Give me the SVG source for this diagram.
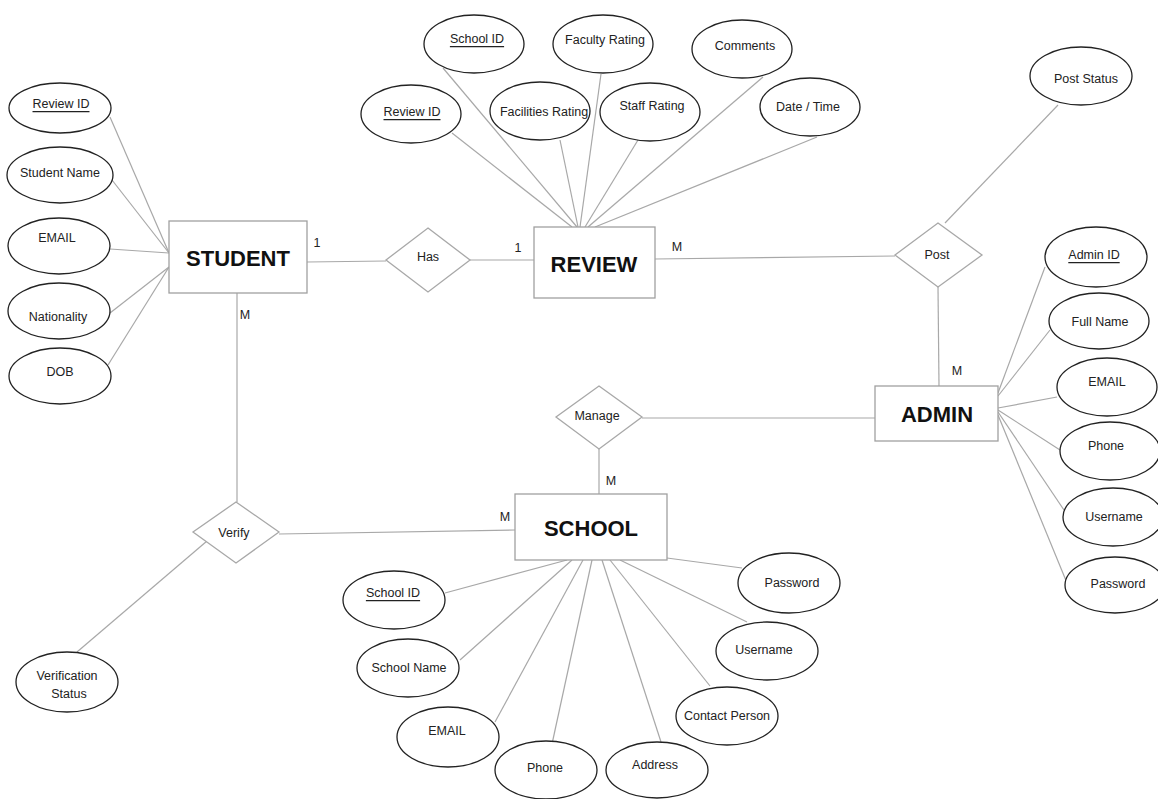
<svg xmlns="http://www.w3.org/2000/svg" width="1158" height="799" viewBox="0 0 1158 799">
<style>
.attr ellipse{fill:#fff;stroke:#222;stroke-width:1.3}
.ent rect{fill:#fff;stroke:#a0a0a0;stroke-width:1.3}
.rel polygon{fill:#fff;stroke:#a8a8a8;stroke-width:1.3}
.conn line{stroke:#a8a8a8;stroke-width:1.2}
text{font-family:"Liberation Sans",Arial,sans-serif;font-size:12.5px;fill:#222;text-anchor:middle;dominant-baseline:central}
.key{text-decoration:underline}
.big{font-size:22px;font-weight:bold;fill:#111}
.card{font-size:12.5px}
</style>
<rect width="1158" height="799" fill="#fff"/>
<g id="connectors" class="conn">
<!-- student attrs -->
<line x1="110" y1="117" x2="169" y2="253"/>
<line x1="112" y1="180" x2="169" y2="253"/>
<line x1="110" y1="249" x2="169" y2="253"/>
<line x1="110" y1="313" x2="169" y2="267"/>
<line x1="108" y1="365" x2="169" y2="267"/>
<!-- relationships -->
<line x1="307" y1="262" x2="386" y2="261"/>
<line x1="470" y1="260" x2="534" y2="260"/>
<line x1="655" y1="259" x2="895" y2="256"/>
<line x1="938" y1="287" x2="939" y2="386"/>
<line x1="1058" y1="105" x2="945" y2="223"/>
<line x1="642" y1="418" x2="875" y2="418"/>
<line x1="599" y1="449" x2="599" y2="494"/>
<line x1="237" y1="293" x2="237" y2="502"/>
<line x1="279" y1="534" x2="515" y2="530"/>
<line x1="77" y1="652" x2="207" y2="541"/>
<!-- review attrs -->
<line x1="452" y1="133" x2="572" y2="227"/>
<line x1="443" y1="68" x2="577" y2="227"/>
<line x1="560" y1="140" x2="578" y2="227"/>
<line x1="601" y1="74" x2="580" y2="227"/>
<line x1="638" y1="140" x2="585" y2="227"/>
<line x1="763" y1="77" x2="588" y2="227"/>
<line x1="817" y1="137" x2="595" y2="227"/>
<!-- admin attrs -->
<line x1="1045" y1="267" x2="998" y2="393"/>
<line x1="1050" y1="330" x2="998" y2="396"/>
<line x1="1057" y1="397" x2="998" y2="408"/>
<line x1="1060" y1="450" x2="998" y2="410"/>
<line x1="1064" y1="510" x2="998" y2="412"/>
<line x1="1067" y1="583" x2="998" y2="415"/>
<!-- school attrs -->
<line x1="445" y1="593" x2="567" y2="560"/>
<line x1="460" y1="660" x2="572" y2="560"/>
<line x1="495" y1="722" x2="583" y2="560"/>
<line x1="552" y1="744" x2="592" y2="560"/>
<line x1="661" y1="742" x2="602" y2="560"/>
<line x1="710" y1="686" x2="610" y2="560"/>
<line x1="747" y1="622" x2="620" y2="560"/>
<line x1="742" y1="568" x2="667" y2="558"/>
</g>

<g id="student" class="ent"><rect x="169" y="221" width="138" height="72"/><text class="big" x="238" y="258">STUDENT</text></g>
<g id="review" class="ent"><rect x="534" y="227" width="121" height="71"/><text class="big" x="594" y="264">REVIEW</text></g>
<g id="admin" class="ent"><rect x="875" y="386" width="123" height="55"/><text class="big" x="937" y="414">ADMIN</text></g>
<g id="school" class="ent"><rect x="515" y="494" width="152" height="66"/><text class="big" x="591" y="528">SCHOOL</text></g>

<g id="has" class="rel"><polygon points="428,228 470,260 428,292 386,260"/><text x="428" y="257">Has</text></g>
<g id="post" class="rel"><polygon points="938,223 982,255 938,287 895,255"/><text x="937" y="255">Post</text></g>
<g id="manage" class="rel"><polygon points="599,386 642,417 599,449 556,417"/><text x="597" y="416">Manage</text></g>
<g id="verify" class="rel"><polygon points="236,502 279,532 236,563 193,532"/><text x="234" y="533">Verify</text></g>

<g id="stu-reviewid" class="attr"><ellipse cx="60" cy="108" rx="51" ry="25"/><text class="key" x="61" y="104">Review ID</text></g>
<g id="stu-name" class="attr"><ellipse cx="60" cy="175" rx="53" ry="28"/><text x="60" y="173">Student Name</text></g>
<g id="stu-email" class="attr"><ellipse cx="59" cy="246" rx="51" ry="28"/><text x="57" y="238">EMAIL</text></g>
<g id="stu-nationality" class="attr"><ellipse cx="59" cy="311" rx="51" ry="28"/><text x="58" y="317">Nationality</text></g>
<g id="stu-dob" class="attr"><ellipse cx="60" cy="376" rx="51" ry="28"/><text x="60" y="372">DOB</text></g>

<g id="rev-schoolid" class="attr"><ellipse cx="474" cy="44" rx="50" ry="29"/><text class="key" x="477" y="39">School ID</text></g>
<g id="rev-faculty" class="attr"><ellipse cx="603" cy="44" rx="50" ry="29"/><text x="605" y="40">Faculty Rating</text></g>
<g id="rev-comments" class="attr"><ellipse cx="742" cy="49" rx="50" ry="29"/><text x="745" y="46">Comments</text></g>
<g id="rev-reviewid" class="attr"><ellipse cx="411" cy="114" rx="50" ry="29"/><text class="key" x="412" y="112">Review ID</text></g>
<g id="rev-facilities" class="attr"><ellipse cx="540" cy="111" rx="50" ry="29"/><text x="544" y="112">Facilities Rating</text></g>
<g id="rev-staff" class="attr"><ellipse cx="650" cy="112" rx="50" ry="29"/><text x="652" y="106">Staff Rating</text></g>
<g id="rev-datetime" class="attr"><ellipse cx="810" cy="107" rx="50" ry="29"/><text x="808" y="107">Date / Time</text></g>

<g id="post-status" class="attr"><ellipse cx="1081" cy="76" rx="51" ry="29"/><text x="1086" y="79">Post Status</text></g>

<g id="adm-id" class="attr"><ellipse cx="1096" cy="257" rx="51" ry="30"/><text class="key" x="1094" y="255">Admin ID</text></g>
<g id="adm-name" class="attr"><ellipse cx="1099" cy="321" rx="50" ry="28"/><text x="1100" y="322">Full Name</text></g>
<g id="adm-email" class="attr"><ellipse cx="1107" cy="387" rx="50" ry="29"/><text x="1107" y="382">EMAIL</text></g>
<g id="adm-phone" class="attr"><ellipse cx="1110" cy="451" rx="50" ry="29"/><text x="1106" y="446">Phone</text></g>
<g id="adm-username" class="attr"><ellipse cx="1113" cy="517" rx="50" ry="29"/><text x="1114" y="517">Username</text></g>
<g id="adm-password" class="attr"><ellipse cx="1115" cy="585" rx="50" ry="28"/><text x="1118" y="584">Password</text></g>

<g id="verification-status" class="attr"><ellipse cx="67" cy="682" rx="51" ry="30"/><text x="67" y="676">Verification</text><text x="69" y="694">Status</text></g>

<g id="sch-id" class="attr"><ellipse cx="394" cy="600" rx="51" ry="29"/><text class="key" x="393" y="593">School ID</text></g>
<g id="sch-name" class="attr"><ellipse cx="408" cy="668" rx="51" ry="29"/><text x="409" y="668">School Name</text></g>
<g id="sch-email" class="attr"><ellipse cx="448" cy="737" rx="51" ry="30"/><text x="447" y="731">EMAIL</text></g>
<g id="sch-phone" class="attr"><ellipse cx="546" cy="770" rx="51" ry="29"/><text x="545" y="768">Phone</text></g>
<g id="sch-address" class="attr"><ellipse cx="657" cy="770" rx="51" ry="28"/><text x="655" y="765">Address</text></g>
<g id="sch-contact" class="attr"><ellipse cx="727" cy="716" rx="51" ry="29"/><text x="727" y="716">Contact Person</text></g>
<g id="sch-username" class="attr"><ellipse cx="767" cy="651" rx="51" ry="29"/><text x="764" y="650">Username</text></g>
<g id="sch-password" class="attr"><ellipse cx="789" cy="583" rx="51" ry="30"/><text x="792" y="583">Password</text></g>

<g id="cardinalities">
<text class="card" x="317" y="243">1</text>
<text class="card" x="245" y="315">M</text>
<text class="card" x="518" y="248">1</text>
<text class="card" x="677" y="247">M</text>
<text class="card" x="957" y="371">M</text>
<text class="card" x="611" y="481">M</text>
<text class="card" x="505" y="517">M</text>
</g>
</svg>
